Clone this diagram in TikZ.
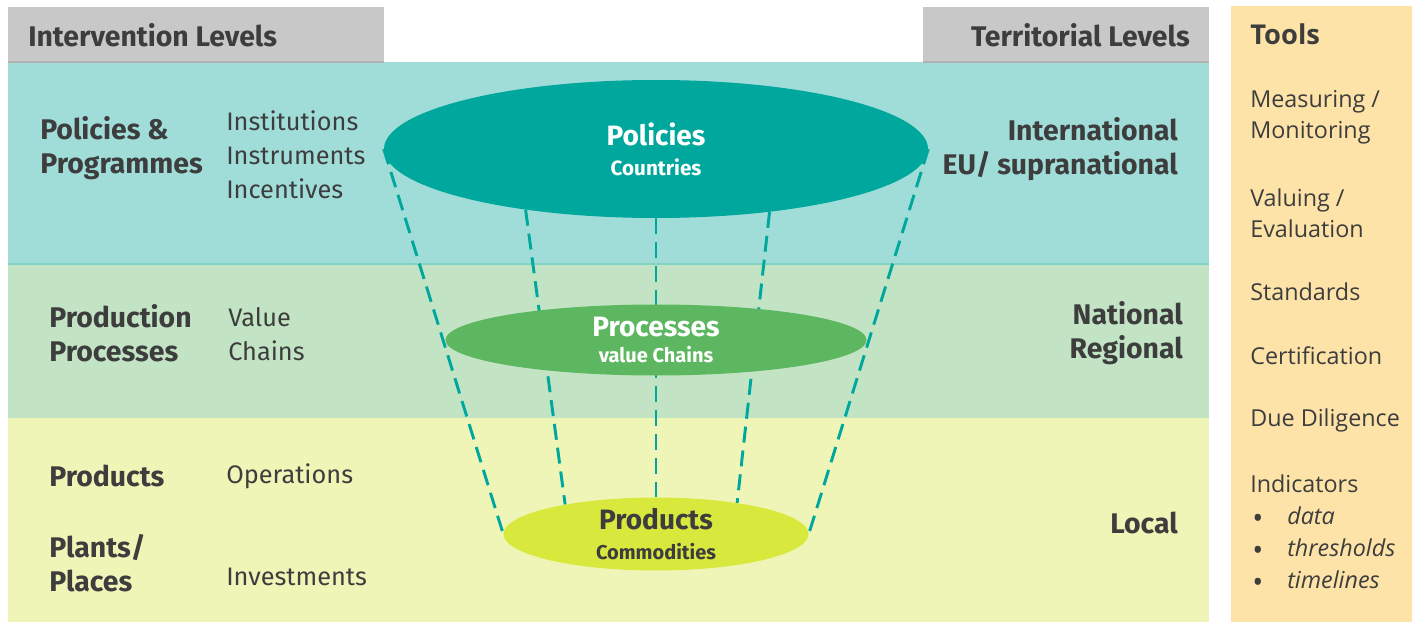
\documentclass[tikz,border=0pt]{standalone}
\usepackage{fontspec}
\setmainfont{Fira Sans}
\newfontfamily\toolsfont{Open Sans}
\usetikzlibrary{positioning,shapes.geometric}
\pgfdeclarelayer{bg}
\pgfsetlayers{bg,main}

\definecolor{hdrgray}{HTML}{C8C8C8}
\definecolor{hdrline}{HTML}{B2B2B2}
\definecolor{bandteal}{HTML}{A0DDD9}
\definecolor{bandgreen}{HTML}{C2E4C4}
\definecolor{bandyellow}{HTML}{EFF5B7}
\definecolor{bandline}{HTML}{80D3C0}
\definecolor{toolpeach}{HTML}{FDE3A8}
\definecolor{polteal}{HTML}{00A79C}
\definecolor{procgreen}{HTML}{5DB760}
\definecolor{prodyellow}{HTML}{D9E83D}
\definecolor{txtgray}{HTML}{3D3D3D}

\tikzset{
  lvl/.style={font=\bfseries\fontsize{21.3}{25.5}\selectfont, text=txtgray, align=left, inner sep=0, anchor=west},
  terr/.style={lvl, align=right, anchor=east},
  item/.style={font=\fontsize{19}{25.5}\selectfont, text=txtgray, align=left, inner sep=0, anchor=west},
  tool/.style={font=\toolsfont\fontsize{17.5}{23.25}\selectfont, text=txtgray, align=left, inner sep=0, anchor=west},
  funnel/.style={ellipse, inner sep=0, align=center, font=\bfseries\fontsize{21}{22.5}\selectfont},
  dashline/.style={draw=polteal, line width=2.2pt, dash pattern=on 12pt off 6pt}
}

\begin{document}
\begin{tikzpicture}[x=0.75pt, y=-0.75pt]
    \useasboundingbox (0,0) rectangle (1412,624);

    % ellipses of the funnel
    \node[funnel, fill=polteal, text=white, minimum width=408pt, minimum height=103.5pt] (pol) at (656,149)
        {Policies\\{\fontsize{15.5}{22.5}\selectfont Countries}};
    \node[funnel, fill=procgreen, text=white, minimum width=315.75pt, minimum height=53.25pt] (proc) at (656,340)
        {\raisebox{-3pt}{Processes}\\{\fontsize{15}{20}\selectfont value Chains}};
    \node[funnel, fill=prodyellow, text=txtgray, minimum width=228.75pt, minimum height=51pt] (prod) at (656,534)
        {Products\\{\fontsize{15}{21}\selectfont Commodities}};

    \begin{pgfonlayer}{bg}
    % bands
    \fill[hdrgray] (8,7) rectangle (384,62);
    \fill[hdrgray] (923,7) rectangle (1209,62);
    \fill[bandteal] (8,62) rectangle (1209,264);
    \fill[bandgreen] (8,264) rectangle (1209,418);
    \fill[bandyellow] (8,418) rectangle (1209,622);
    \draw[hdrline, line width=1pt] (8,62) -- (384,62) (923,62) -- (1209,62);
    \draw[bandline, line width=1pt] (8,264) -- (1209,264);
    \fill[toolpeach] (1231,6) rectangle (1412,622);
    % dashed funnel lines
    \draw[dashline] (pol.west) -- (prod.west);
    \draw[dashline] (pol.east) -- (prod.east);
    \draw[dashline] (pol.south) -- (prod.north);
    \draw[dashline] (pol.205) -- (prod.162);
    \draw[dashline] (pol.-29) -- (prod.21.5);
    \end{pgfonlayer}

    % headers
    \node[lvl] (ilev) at (28,35) {Intervention Levels};
    \node[terr] (tlev) at (1190,35) {Territorial Levels};

    % left column
    \node[lvl] (polprog) at (40,148) {Policies \&\\Programmes};
    \node[item] (inst) at (226,155) {Institutions\\Instruments\\Incentives};
    \node[lvl] (prodproc) at (49,333) {Production\\Processes};
    \node[item] (vchain) at (228,334) {Value\\Chains};
    \node[lvl] (prods) at (49,476) {Products};
    \node[item] (oper) at (226,476) {Operations};
    \node[lvl] (plants) at (49,563) {Plants/\\Places};
    \node[item] (invest) at (226,577) {Investments};

    % right column
    \node[terr] (intl) at (1178,149) {International\\EU/ supranational};
    \node[terr] (natreg) at (1183,333) {National\\Regional};
    \node[terr] (local) at (1178,523) {Local};

    % tools
    \node[tool, font=\toolsfont\bfseries\fontsize{20.5}{24}\selectfont] (tools) at (1250,34) {Tools};
    \node[tool] (meas) at (1250,117) {Measuring /\\Monitoring};
    \node[tool] (valu) at (1250,213) {Valuing /\\Evaluation};
    \node[tool] (stand) at (1250,292) {Standards};
    \node[tool] (cert) at (1250,356) {Certification};
    \node[tool] (due) at (1250,420) {Due Diligence};
    \node[tool] (indic) at (1250,484) {Indicators};
    \foreach \t [count=\i] in {data,thresholds,timelines}{
        \node[tool, font=\toolsfont\fontsize{22}{24}\selectfont] (bul\i) at (1252,489+32*\i) {•};
        \node[tool, font=\toolsfont\itshape\fontsize{17.5}{20}\selectfont] (ind\i) at (1287,484+32*\i) {\t};
    }
\end{tikzpicture}
\end{document}
